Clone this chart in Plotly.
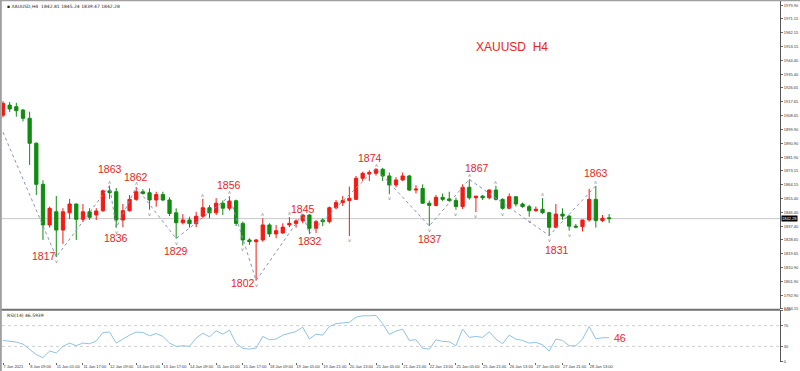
import plotly.graph_objects as go
from plotly.subplots import make_subplots

# ---------------- data ----------------
opens = [1909.0, 1915.5, 1914.5, 1912.3, 1907.0, 1890.9, 1864.4, 1838.2, 1846.7, 1834.9,
         1846.0, 1851.7, 1841.8, 1846.7, 1844.6, 1847.4, 1860.2, 1859.6, 1841.4, 1847.4,
         1854.7, 1859.6, 1859.0, 1854.3, 1857.8, 1854.3, 1846.0, 1839.6, 1841.4, 1839.0,
         1843.8, 1849.3, 1846.0, 1852.2, 1849.0, 1853.8, 1839.2, 1828.5, 1827.4, 1828.5,
         1838.2, 1832.4, 1833.0, 1838.2, 1839.2, 1840.8, 1844.6, 1836.0, 1841.4, 1840.3,
         1849.3, 1852.6, 1853.9, 1854.7, 1868.3, 1871.0, 1871.5, 1874.1, 1869.8, 1864.0,
         1867.2, 1869.8, 1860.7, 1861.7, 1852.2, 1850.8, 1856.0, 1855.0, 1853.9, 1850.1,
         1862.5, 1855.7, 1856.8, 1855.7, 1860.7, 1854.7, 1848.9, 1856.4, 1851.7, 1850.0,
         1847.4, 1848.3, 1846.1, 1836.7, 1845.2, 1843.9, 1837.4, 1837.1, 1841.4, 1854.7,
         1841.0, 1842.81]
highs = [1918.0, 1917.5, 1917.0, 1913.0, 1911.3, 1891.5, 1867.0, 1850.0, 1856.9, 1849.0,
         1855.0, 1852.0, 1851.7, 1849.0, 1849.0, 1861.0, 1863.5, 1862.0, 1851.7, 1857.5,
         1862.5, 1861.3, 1861.8, 1859.6, 1859.6, 1856.0, 1848.9, 1845.2, 1843.5, 1846.7,
         1855.0, 1851.0, 1855.5, 1854.0, 1856.6, 1854.5, 1840.3, 1829.6, 1829.2, 1842.5,
         1839.3, 1838.2, 1839.2, 1843.3, 1841.8, 1845.4, 1845.2, 1841.4, 1842.5, 1850.1,
         1854.3, 1856.9, 1863.0, 1869.8, 1872.5, 1873.5, 1874.6, 1875.0, 1872.0, 1869.0,
         1872.0, 1870.5, 1863.9, 1864.4, 1853.9, 1857.5, 1858.5, 1859.6, 1855.8, 1864.4,
         1867.6, 1856.8, 1857.5, 1861.3, 1863.5, 1855.4, 1858.5, 1856.8, 1852.6, 1851.2,
         1850.1, 1855.5, 1846.7, 1851.7, 1848.9, 1844.6, 1838.8, 1839.2, 1861.5, 1863.4,
         1844.6, 1845.24]
lows = [1907.5, 1911.0, 1908.0, 1905.0, 1876.9, 1857.5, 1828.5, 1836.5, 1817.5, 1826.0,
        1842.0, 1828.5, 1840.0, 1841.4, 1841.4, 1846.5, 1855.0, 1836.4, 1836.7, 1846.7,
        1853.8, 1857.8, 1848.0, 1850.0, 1853.5, 1843.9, 1829.4, 1838.5, 1836.5, 1836.7,
        1842.5, 1842.5, 1844.5, 1844.6, 1847.5, 1837.5, 1825.0, 1825.3, 1802.3, 1827.4,
        1830.4, 1829.6, 1832.5, 1836.8, 1836.5, 1839.2, 1832.4, 1833.0, 1837.4, 1839.2,
        1848.3, 1850.4, 1831.0, 1854.3, 1866.5, 1866.5, 1870.0, 1866.5, 1858.0, 1862.4,
        1866.5, 1860.2, 1858.5, 1852.0, 1837.5, 1850.1, 1853.5, 1853.2, 1848.0, 1848.5,
        1854.5, 1846.5, 1854.3, 1854.7, 1854.0, 1848.0, 1848.3, 1850.1, 1849.3, 1843.5,
        1846.7, 1845.2, 1831.3, 1836.0, 1841.5, 1834.5, 1836.0, 1834.0, 1840.3, 1836.5,
        1840.1, 1839.47]
closes = [1916.7, 1913.0, 1911.9, 1907.0, 1890.9, 1864.4, 1838.2, 1848.9, 1834.9, 1846.7,
          1851.7, 1841.8, 1846.7, 1843.1, 1847.2, 1860.2, 1859.0, 1841.4, 1847.4, 1854.7,
          1859.6, 1858.5, 1854.3, 1857.8, 1854.3, 1845.6, 1839.6, 1841.4, 1839.0, 1843.8,
          1849.3, 1846.0, 1852.2, 1849.0, 1853.6, 1839.2, 1828.5, 1827.4, 1828.5, 1838.2,
          1832.4, 1834.5, 1836.8, 1839.2, 1840.8, 1844.6, 1836.0, 1840.3, 1840.3, 1849.3,
          1852.6, 1853.9, 1855.4, 1868.3, 1871.5, 1872.1, 1874.1, 1869.8, 1864.0, 1867.2,
          1869.8, 1860.7, 1861.3, 1852.2, 1850.8, 1856.0, 1854.7, 1853.9, 1850.1, 1862.5,
          1855.7, 1856.8, 1855.7, 1860.7, 1854.7, 1848.9, 1856.4, 1851.7, 1850.0, 1847.4,
          1848.3, 1846.1, 1836.7, 1845.2, 1843.9, 1837.4, 1836.8, 1841.4, 1854.7, 1841.0,
          1842.5, 1842.28]

rsi = [41.5, 39.6, 38.3, 34.5, 24.9, 14.1, 8.4, 21.1, 17.3, 30.0,
       36.4, 31.3, 36.4, 35.1, 40.3, 56.8, 57.5, 36.4, 44.1, 51.7,
       57.5, 56.8, 50.4, 54.9, 49.2, 36.4, 30.0, 31.3, 30.0, 46.0,
       55.5, 48.5, 60.0, 53.6, 61.3, 35.8, 26.2, 24.9, 26.8, 49.2,
       42.8, 44.1, 51.7, 55.5, 58.7, 67.0, 44.1, 53.6, 51.7, 68.2,
       73.8, 75.1, 76.3, 86.4, 88.9, 88.9, 89.7, 73.8, 53.0, 59.4,
       63.2, 41.5, 42.8, 26.2, 24.9, 42.8, 39.6, 39.0, 31.3, 63.2,
       47.3, 49.2, 47.3, 58.1, 44.1, 35.1, 51.7, 44.1, 41.5, 36.4,
       37.7, 33.2, 21.1, 44.1, 41.5, 31.3, 31.3, 44.1, 68.2, 44.7,
       46.6, 46.59]

time_labels = ["7 Jan 2021", "8 Jan 09:00", "11 Jan 01:00", "11 Jan 17:00", "12 Jan 09:00",
               "13 Jan 01:00", "13 Jan 17:00", "14 Jan 09:00", "15 Jan 01:00", "15 Jan 17:00",
               "18 Jan 09:00", "19 Jan 05:00", "19 Jan 21:00", "20 Jan 13:00", "21 Jan 05:00",
               "21 Jan 21:00", "22 Jan 13:00", "25 Jan 05:00", "25 Jan 21:00", "26 Jan 13:00",
               "27 Jan 05:00", "27 Jan 21:00", "28 Jan 13:00"]

price_ticks = ["1979.90", "1971.15", "1962.15", "1953.15", "1944.40", "1935.40", "1926.65",
               "1917.65", "1908.65", "1899.90", "1890.90", "1881.90", "1873.15", "1864.15",
               "1855.40", "1846.40", "1837.40", "1828.65", "1819.65", "1810.90", "1801.90",
               "1792.90", "1784.15"]

zigzag_bars = [0, 8, 16, 17, 20, 26, 34, 38, 45, 46, 56, 64, 70, 82, 89]
zigzag_prices = [1898.0, 1817.5, 1863.5, 1836.4, 1862.5, 1829.4, 1856.6, 1802.3, 1845.4,
                 1832.4, 1874.6, 1837.5, 1867.6, 1831.3, 1863.4]
# pivot labels: text, bar position, price position
pivot_text = ["1817", "1863", "1862", "1836", "1829", "1856", "1802", "1845", "1832",
              "1874", "1837", "1867", "1831", "1863"]
pivot_x = [6.2, 16.1, 20.0, 17.0, 26.0, 34.0, 36.0, 45.0, 46.1, 55.1, 64.1, 71.2, 83.2, 89.0]
pivot_y = [1818.1, 1874.3, 1869.1, 1829.8, 1821.4, 1864.0, 1800.7, 1848.5, 1827.8,
           1881.4, 1829.1, 1874.9, 1822.0, 1872.0]

fractal_up_bars = [16, 20, 30, 34, 39, 43, 56, 70, 74, 81, 89]
fractal_down_bars = [8, 17, 22, 26, 36, 38, 46, 52, 58, 64, 68, 71, 75, 79, 82, 85]

last_price = closes[-1]
header = "XAUUSD,H4  1842.81 1845.24 1839.47 1842.28"
rsi_header = "RSI(14) 46.5939"
chart_title = "XAUUSD  H4"

# ---------------- figure ----------------
RED = "#f01c14"
GREEN = "#118c11"
LABEL_RED = "#e8231b"
TICKFONT = dict(family="Liberation Sans", size=4, color="#333")

bars = list(range(len(closes)))

fig = make_subplots(rows=2, cols=1, shared_xaxes=True, vertical_spacing=0.0)

fig.add_trace(go.Candlestick(
    x=bars, open=opens, high=highs, low=lows, close=closes,
    increasing=dict(line=dict(color=RED, width=1), fillcolor=RED),
    decreasing=dict(line=dict(color=GREEN, width=1), fillcolor=GREEN),
    whiskerwidth=0, showlegend=False, hoverinfo="skip"), row=1, col=1)

fig.add_trace(go.Scatter(
    x=zigzag_bars, y=zigzag_prices, mode="lines",
    line=dict(color="#8a8fc4", width=1, dash="dot"),
    showlegend=False, hoverinfo="skip"), row=1, col=1)

fig.add_trace(go.Scatter(
    x=bars, y=rsi, mode="lines",
    line=dict(color="#8fc3e3", width=1),
    showlegend=False, hoverinfo="skip"), row=2, col=1)

MAIN_DOMAIN = [0.1468, 1.0]
RSI_DOMAIN = [0.0, 0.144]
XR = [-0.15, 116.65]

fig.update_layout(
    width=800, height=371,
    margin=dict(l=2, r=20, t=1, b=9, autoexpand=False),
    paper_bgcolor="white", plot_bgcolor="white",
    font=dict(family="DejaVu Sans", color="#333333"),
    showlegend=False,
)

fig.update_xaxes(range=XR, showgrid=False, zeroline=False, rangeslider_visible=False,
                 showline=False, automargin=False)
fig.update_xaxes(showticklabels=False, ticks="", row=1, col=1)
fig.update_xaxes(tickmode="array", tickvals=[4 * i for i in range(len(time_labels))],
                 ticktext=time_labels, ticks="outside", ticklen=2, tickcolor="#666",
                 tickangle=0, tickfont=TICKFONT, ticklabelposition="outside right",
                 row=2, col=1)

fig.update_yaxes(domain=MAIN_DOMAIN, range=[1783.96, 1982.67], side="right",
                 tickmode="array", tickvals=[float(t) for t in price_ticks],
                 ticktext=price_ticks, ticks="outside", ticklen=2, tickcolor="#666",
                 tickfont=TICKFONT, showgrid=False, zeroline=False, automargin=False,
                 showline=True, linecolor="#555", linewidth=1, row=1, col=1)
fig.update_yaxes(domain=RSI_DOMAIN, range=[0, 100], side="right",
                 tickmode="array", tickvals=[0, 30, 70, 100], ticktext=["0", "30", "70", "100"],
                 ticks="outside", ticklen=2, tickcolor="#666", automargin=False,
                 tickfont=TICKFONT, showgrid=False, zeroline=False,
                 showline=True, linecolor="#555", linewidth=1, row=2, col=1)

shapes = []
# current price line
shapes.append(dict(type="line", xref="paper", yref="y", x0=0, x1=1, y0=last_price, y1=last_price,
                   line=dict(color="#c8c8c8", width=1), layer="below"))
# RSI levels
for lv in (30, 70):
    shapes.append(dict(type="line", xref="paper", yref="y2", x0=0, x1=1, y0=lv, y1=lv,
                       line=dict(color="#cfcfcf", width=1, dash="dot"), layer="below"))
# separator between panels
shapes.append(dict(type="line", xref="paper", yref="paper", x0=-0.01, x1=1,
                   y0=MAIN_DOMAIN[0] - 0.002, y1=MAIN_DOMAIN[0] - 0.002,
                   line=dict(color="#707070", width=2)))
# outer frame left/top
shapes.append(dict(type="line", xref="paper", yref="paper", x0=-0.0015, x1=-0.0015, y0=-0.03, y1=1.01,
                   line=dict(color="#a0a0a0", width=2)))
shapes.append(dict(type="line", xref="paper", yref="paper", x0=-0.01, x1=1.03, y0=1.002, y1=1.002,
                   line=dict(color="#a0a0a0", width=2)))
fig.update_layout(shapes=shapes)

ann = []
for t, xx, yy in zip(pivot_text, pivot_x, pivot_y):
    ann.append(dict(x=xx, y=yy, xref="x", yref="y", text=t, showarrow=False,
                    xanchor="center", yanchor="middle",
                    font=dict(family="Liberation Sans", size=10.5, color=LABEL_RED)))
for b in fractal_up_bars:
    ann.append(dict(x=b, y=highs[b], xref="x", yref="y", text="ʌ", showarrow=False, yshift=4,
                    font=dict(size=5, color="#808080")))
for b in fractal_down_bars:
    ann.append(dict(x=b, y=lows[b], xref="x", yref="y", text="v", showarrow=False, yshift=-4,
                    font=dict(size=5, color="#808080")))
ann.append(dict(x=0.656, y=0.872, xref="paper", yref="paper", text=chart_title, showarrow=False,
                xanchor="center", yanchor="middle",
                font=dict(family="Liberation Sans", size=12, color=LABEL_RED)))
ann.append(dict(x=0.004, y=0.996, xref="paper", yref="paper", text="▪ " + header, showarrow=False,
                xanchor="left", yanchor="top", font=dict(size=4.5, color="#222")))
ann.append(dict(x=0.004, y=RSI_DOMAIN[1] - 0.004, xref="paper", yref="paper", text=rsi_header,
                showarrow=False, xanchor="left", yanchor="top", font=dict(size=4.5, color="#222")))
ann.append(dict(x=91.4, y=rsi[-1], xref="x", yref="y2", text="46", showarrow=False,
                xanchor="left", yanchor="middle",
                font=dict(family="Liberation Sans", size=10.5, color=LABEL_RED)))
ann.append(dict(x=1.0, y=last_price, xref="paper", yref="y", text="1842.28", showarrow=False,
                xanchor="left", yanchor="middle", xshift=1, bgcolor="#000000", borderpad=0,
                font=dict(family="Liberation Sans", size=4, color="white")))
fig.update_layout(annotations=ann)

fig.write_html("out.html", config={"displayModeBar": False},
               post_script="document.body.style.margin='0px';document.body.style.padding='0px';")
